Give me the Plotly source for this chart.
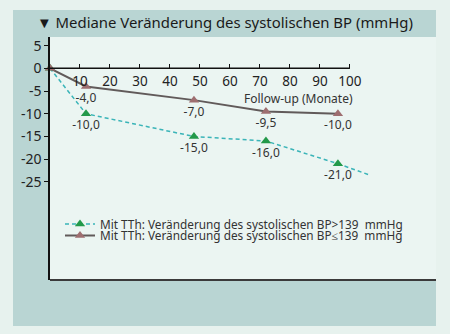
import plotly.graph_objects as go

# ---- data ----
months = [0, 12, 48, 72, 96]
bp_high = [0, -10.0, -15.0, -16.0, -21.0]      # BP>139
bp_low = [0, -4.0, -7.0, -9.5, -10.0]          # BP<=139
high_ext_x = [96, 107]                          # dashed trend continuation
high_ext_y = [-21.0, -23.6]
x_ticks = [10, 20, 30, 40, 50, 60, 70, 80, 90, 100]
y_ticks = [5, 0, -5, -10, -15, -20, -25]
y_ticktext = ["5", "0", "-5", "-10", "-15", "-20", "-25"]
name_high = "Mit TTh: Veränderung des systolischen BP>139  mmHg"
name_low = "Mit TTh: Veränderung des systolischen BP≤139  mmHg"
title = "▼ Mediane Veränderung des systolischen BP (mmHg)"
x_title = "Follow-up (Monate)"

def fmt(v):
    return f"{v:.1f}".replace(".", ",")

lab_high = [""] + [fmt(v) for v in bp_high[1:]]
lab_low = [""] + [fmt(v) for v in bp_low[1:]]

# ---- layout geometry (pixels) ----
W, H = 450, 334
L, R, T, B = 50, 14, 37, 54
PW, PH = W - L - R, H - T - B
def X(px): return (px - L) / PW
def Y(py): return (H - B - py) / PH

x_range = [0, 128.7]
y_range = [-46.6, 6.9]
xpos = (0 - y_range[0]) / (y_range[1] - y_range[0])

FONT = "Noto Sans"
teal = "#3ab4b8"
green = "#23994a"
brown = "#9e6e70"
gray = "#615a5a"

fig = go.Figure()
fig.add_trace(go.Scatter(
    x=high_ext_x, y=high_ext_y, mode="lines", showlegend=False,
    line=dict(color=teal, width=1.5, dash="4px,3px"), hoverinfo="skip"))
fig.add_trace(go.Scatter(
    x=months, y=bp_high, mode="lines+markers+text", name=name_high,
    text=lab_high, textposition="bottom center",
    textfont=dict(family=FONT, size=12, color="#333"),
    line=dict(color=teal, width=1.5, dash="4px,3px"),
    marker=dict(symbol="triangle-up", size=9, color=green),
    cliponaxis=False, legend="legend"))
fig.add_trace(go.Scatter(
    x=months, y=bp_low, mode="lines+markers+text", name=name_low,
    text=lab_low, textposition="bottom center",
    textfont=dict(family=FONT, size=12, color="#333"),
    line=dict(color=gray, width=2),
    marker=dict(symbol="triangle-up", size=9, color=brown),
    cliponaxis=False, legend="legend2"))

shapes = [
    dict(type="rect", xref="paper", yref="paper", x0=X(13), x1=X(436), y0=Y(326), y1=Y(10),
         fillcolor="#b9d5d3", line=dict(width=0), layer="below"),
    dict(type="rect", xref="paper", yref="paper", x0=0, x1=1, y0=0, y1=1,
         fillcolor="#ebf5f2", line=dict(width=0), layer="below"),
    dict(type="line", xref="paper", yref="paper", x0=0, x1=1, y0=0, y1=0,
         line=dict(color="#3a3a3a", width=2)),
    dict(type="line", xref="x", yref="y", x0=0, x1=x_ticks[-1], y0=0, y1=0,
         line=dict(color="#111", width=1.5)),
]

legend_common = dict(bgcolor="rgba(0,0,0,0)", borderwidth=0, xanchor="left", yanchor="middle",
                     font=dict(family=FONT, size=11.8, color="#333"), itemwidth=30)

fig.update_layout(
    width=W, height=H,
    margin=dict(l=L, r=R, t=T, b=B, pad=0),
    paper_bgcolor="#e7f2ee", plot_bgcolor="#ebf5f2",
    showlegend=True,
    legend=dict(x=X(60), y=Y(224), **legend_common),
    legend2=dict(x=X(60), y=Y(235.5), **legend_common),
    title=dict(text=title, xref="container", yref="container", x=37 / W, y=1 - 23 / H,
               xanchor="left", yanchor="middle",
               font=dict(family=FONT, size=14.9, color="#1a1a1a")),
    xaxis=dict(range=x_range, anchor="free", position=xpos, showline=False, showgrid=False,
               zeroline=False, ticks="inside", ticklen=4, tickwidth=1, tickcolor="#111",
               ticklabelstandoff=3,
               tickvals=x_ticks, tickfont=dict(family=FONT, size=13.5, color="#222")),
    yaxis=dict(range=y_range, showline=True, linecolor="#111", linewidth=1.5, showgrid=False,
               zeroline=False, ticks="outside", ticklen=4, tickcolor="#111",
               tickvals=y_ticks, ticktext=y_ticktext,
               tickfont=dict(family=FONT, size=14, color="#222")),
    shapes=shapes,
    annotations=[
        dict(text=x_title, xref="x", yref="paper", x=101.7, y=Y(98), xanchor="right",
             yanchor="middle", showarrow=False, font=dict(family=FONT, size=12, color="#333")),
    ],
)

fig.write_html("out.html")
